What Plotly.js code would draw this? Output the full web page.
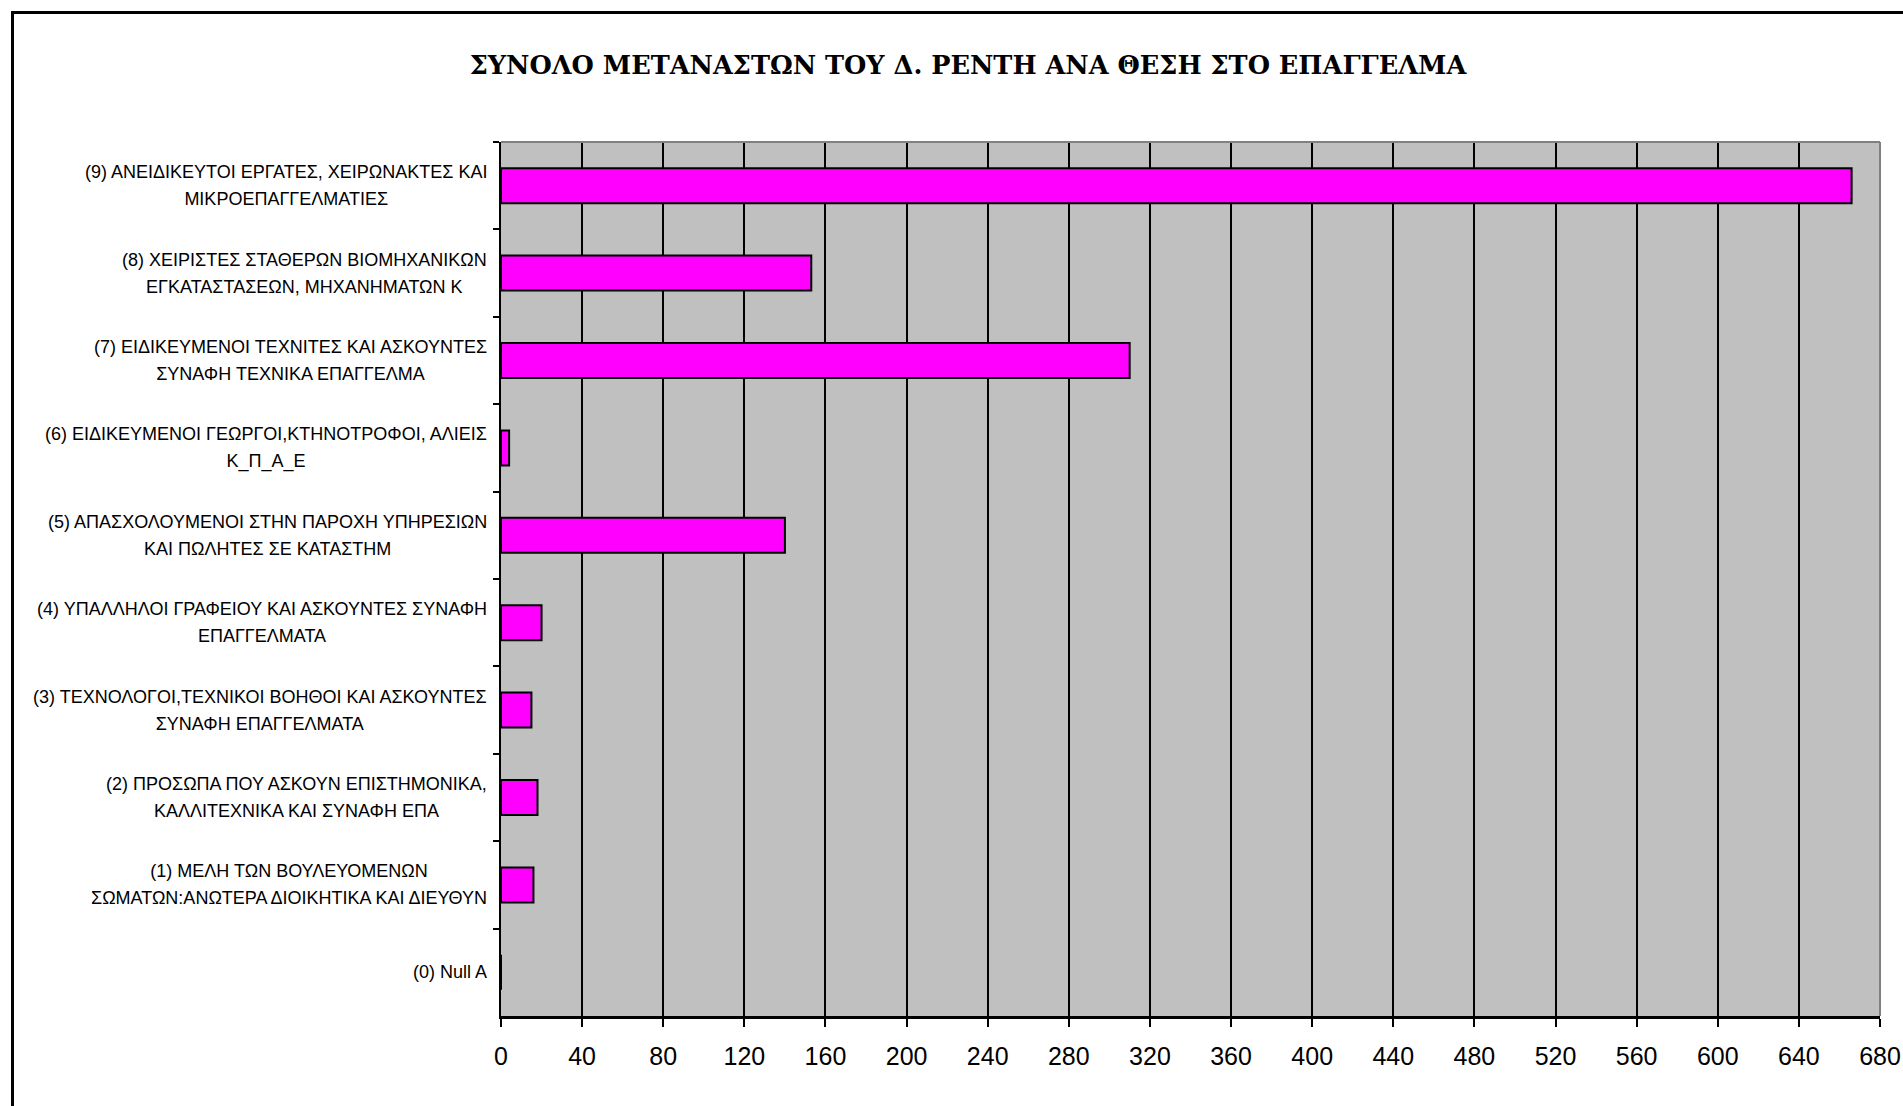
<!DOCTYPE html>
<html>
<head>
<meta charset="utf-8">
<script src="https://cdn.plot.ly/plotly-3.0.1.min.js"></script>
<style>
  html, body { margin: 0; padding: 0; background: #ffffff; }
  #chart { width: 1903px; height: 1106px; }
</style>
</head>
<body>
<div id="chart"></div>
<script>
// ---- Data (top to bottom as in the reference) ----
const categories = [
  "(9) ΑΝΕΙΔΙΚΕΥΤΟΙ ΕΡΓΑΤΕΣ, ΧΕΙΡΩΝΑΚΤΕΣ ΚΑΙ<br>ΜΙΚΡΟΕΠΑΓΓΕΛΜΑΤΙΕΣ",
  "(8) ΧΕΙΡΙΣΤΕΣ ΣΤΑΘΕΡΩΝ ΒΙΟΜΗΧΑΝΙΚΩΝ<br>ΕΓΚΑΤΑΣΤΑΣΕΩΝ, ΜΗΧΑΝΗΜΑΤΩΝ Κ",
  "(7) ΕΙΔΙΚΕΥΜΕΝΟΙ ΤΕΧΝΙΤΕΣ ΚΑΙ ΑΣΚΟΥΝΤΕΣ<br>ΣΥΝΑΦΗ ΤΕΧΝΙΚΑ ΕΠΑΓΓΕΛΜΑ",
  "(6) ΕΙΔΙΚΕΥΜΕΝΟΙ ΓΕΩΡΓΟΙ,ΚΤΗΝΟΤΡΟΦΟΙ, ΑΛΙΕΙΣ<br>Κ_Π_Α_Ε",
  "(5) ΑΠΑΣΧΟΛΟΥΜΕΝΟΙ ΣΤΗΝ ΠΑΡΟΧΗ ΥΠΗΡΕΣΙΩΝ<br>ΚΑΙ ΠΩΛΗΤΕΣ ΣΕ ΚΑΤΑΣΤΗΜ",
  "(4) ΥΠΑΛΛΗΛΟΙ ΓΡΑΦΕΙΟΥ ΚΑΙ ΑΣΚΟΥΝΤΕΣ ΣΥΝΑΦΗ<br>ΕΠΑΓΓΕΛΜΑΤΑ",
  "(3) ΤΕΧΝΟΛΟΓΟΙ,ΤΕΧΝΙΚΟΙ ΒΟΗΘΟΙ ΚΑΙ ΑΣΚΟΥΝΤΕΣ<br>ΣΥΝΑΦΗ ΕΠΑΓΓΕΛΜΑΤΑ",
  "(2) ΠΡΟΣΩΠΑ ΠΟΥ ΑΣΚΟΥΝ ΕΠΙΣΤΗΜΟΝΙΚΑ,<br>ΚΑΛΛΙΤΕΧΝΙΚΑ ΚΑΙ ΣΥΝΑΦΗ ΕΠΑ",
  "(1) ΜΕΛΗ ΤΩΝ ΒΟΥΛΕΥΟΜΕΝΩΝ<br>ΣΩΜΑΤΩΝ:ΑΝΩΤΕΡΑ ΔΙΟΙΚΗΤΙΚΑ ΚΑΙ ΔΙΕΥΘΥΝ",
  "(0) Null A"
];
const values = [666, 153, 310, 4, 140, 20, 15, 18, 16, 0];
const xTickValues = [0, 40, 80, 120, 160, 200, 240, 280, 320, 360, 400, 440, 480, 520, 560, 600, 640, 680];
const chartTitle = "ΣΥΝΟΛΟ ΜΕΤΑΝΑΣΤΩΝ ΤΟΥ Δ. ΡΕΝΤΗ ΑΝΑ ΘΕΣΗ ΣΤΟ ΕΠΑΓΓΕΛΜΑ";

// ---- Layout constants ----
const W = 1903, H = 1106;
const M = { l: 501, r: 23, t: 142, b: 90 };
const plotW = W - M.l - M.r, plotH = H - M.t - M.b;
const px2paperX = px => (px - M.l) / plotW;
const py2paperY = py => 1 - (py - M.t) / plotH;

const trace = {
  type: "bar",
  orientation: "h",
  x: values,
  y: categories,
  marker: { color: "#FF00FF", line: { color: "#000000", width: 2 } },
  hoverinfo: "x+y"
};

// Category labels: lines centred on each other, right edge next to the axis.
// The outer font size sets the (wider) line spacing, the inner span the glyph size.
const annotations = categories.map(c => ({
  xref: "paper", yref: "y",
  x: 0, y: c,
  xanchor: "right", yanchor: "middle",
  xshift: -12,
  align: "center",
  text: c.split("<br>").map(s => "<span style='font-size:18px'>" + s + "</span>").join("<br>"),
  showarrow: false,
  font: { family: "Liberation Sans, Arial, sans-serif", size: 20.5, color: "#000000" }
}));

const layout = {
  width: W, height: H,
  margin: M,
  paper_bgcolor: "#ffffff",
  plot_bgcolor: "#C0C0C0",
  showlegend: false,
  bargap: 0.6,
  title: {
    text: "<b>" + chartTitle + "</b>",
    font: { family: "DejaVu Serif, serif", size: 25.6, color: "#000000" },
    xref: "container", yref: "container",
    x: 968 / W, xanchor: "center",
    y: 1 - 65.5 / H, yanchor: "middle"
  },
  xaxis: {
    range: [0, 680],
    tickmode: "array",
    tickvals: xTickValues,
    ticktext: xTickValues.map(String),
    ticks: "outside", ticklen: 8, tickwidth: 2, tickcolor: "#000000",
    ticklabelstandoff: 8,
    tickfont: { family: "Liberation Sans, Arial, sans-serif", size: 25, color: "#000000" },
    showgrid: true, gridcolor: "#000000", gridwidth: 2,
    showline: true, linecolor: "#000000", linewidth: 3,
    zeroline: false,
    fixedrange: true
  },
  yaxis: {
    type: "category",
    autorange: "reversed",
    tickson: "boundaries",
    ticks: "outside", ticklen: 6, tickwidth: 2, tickcolor: "#000000",
    showticklabels: false,
    showgrid: false,
    showline: true, linecolor: "#000000", linewidth: 2,
    zeroline: false,
    fixedrange: true
  },
  annotations: annotations,
  shapes: [
    // gray plot-area border on top and right
    { type: "line", xref: "paper", yref: "paper", x0: 0, x1: 1, y0: 1, y1: 1,
      line: { color: "#808080", width: 2 }, layer: "above" },
    { type: "line", xref: "paper", yref: "paper", x0: 1, x1: 1, y0: 0, y1: 1,
      line: { color: "#808080", width: 2 }, layer: "above" },
    // outer chart frame (right and bottom edges fall outside the picture, as in the reference)
    { type: "rect", xref: "paper", yref: "paper",
      x0: px2paperX(12.5), x1: px2paperX(1915),
      y0: py2paperY(1120), y1: py2paperY(12.5),
      line: { color: "#000000", width: 3 }, fillcolor: "rgba(0,0,0,0)", layer: "above" }
  ]
};

Plotly.newPlot("chart", [trace], layout, { displayModeBar: false, staticPlot: true });
</script>
</body>
</html>
